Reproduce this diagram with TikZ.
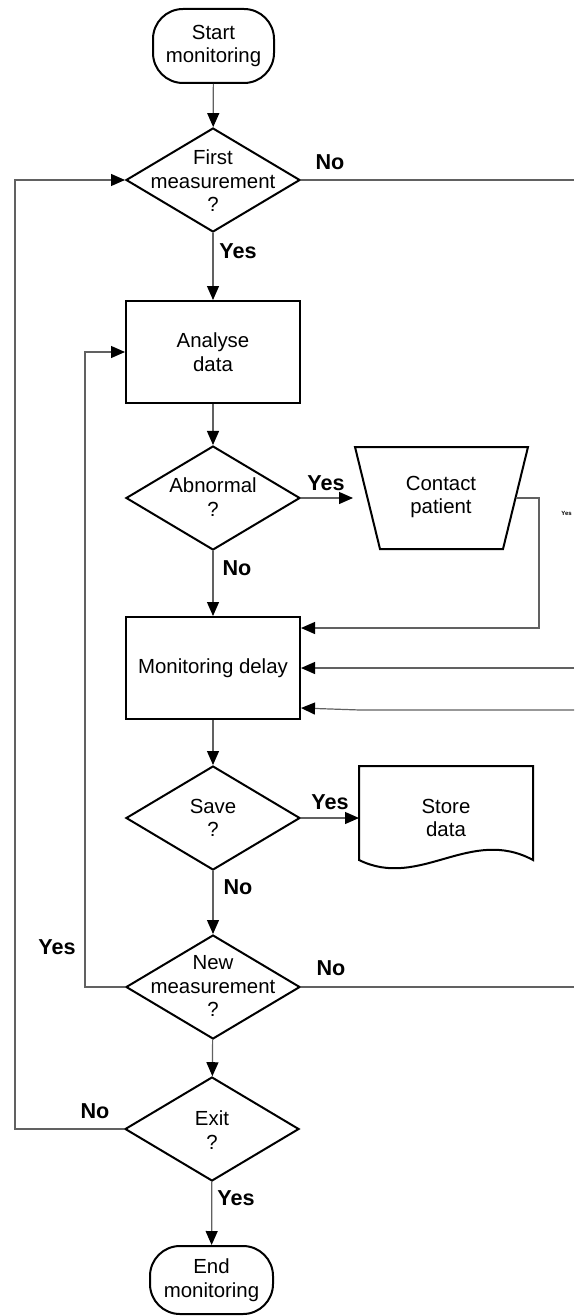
\documentclass[tikz,border=0pt]{standalone}
\usepackage{fontspec}
\setmainfont{Liberation Sans}
\usetikzlibrary{arrows.meta,shapes.geometric}
\begin{document}
\begin{tikzpicture}[x=0.5pt,y=-0.5pt,
  every node/.style={font=\fontsize{10.2}{11.8}\selectfont},
  box/.style={draw=black,line width=1pt,minimum width=87pt,minimum height=51pt,inner sep=0pt,align=center},
  dia/.style={draw=black,line width=1pt,diamond,minimum width=87pt,minimum height=52pt,inner sep=0pt},
  term/.style={draw=black,line width=1pt,rounded corners=15pt,minimum width=60.5pt,minimum height=37pt,inner sep=0pt,align=center},
  txt/.style={align=center,inner sep=0pt},
  lbl/.style={font=\fontsize{10.8}{12}\selectfont\bfseries,inner sep=0pt},
  conn/.style={draw=black!62,line width=0.6pt},
  arr/.style={conn,-{Triangle[length=7pt,width=6pt,color=black]}},
  outl/.style={draw=black,line width=1pt,line join=miter},
]
\useasboundingbox (0,0) rectangle (574,1316);

% nodes
\node[term] (start) at (213.5,46) {Start\\monitoring};
\node[dia] (first) at (213,180) {};
\node[txt] (firstT) at (213,181) {First\\measurement\\?};
\node[box] (ana) at (213,352) {Analyse\\data};
\node[dia] (abn) at (213,498) {};
\node[txt] (abnT) at (213,497) {Abnormal\\?};
\node[box] (mon) at (213,668) {Monitoring delay};
\node[dia] (save) at (213,818) {};
\node[txt] (saveT) at (213,818) {Save\\?};
\node[dia] (new) at (213,987) {};
\node[txt] (newT) at (213,986) {New\\measurement\\?};
\node[dia] (exit) at (212,1129) {};
\node[txt] (exitT) at (212,1130) {Exit\\?};
\node[term,minimum width=61.5pt,minimum height=34pt] (end) at (211.5,1280) {End\\monitoring};

% contact patient (manual input trapezoid)
\coordinate (ct1) at (355,447);
\coordinate (ct2) at (528,447);
\coordinate (ct3) at (503,549);
\coordinate (ct4) at (380,549);
\draw[outl] (ct1) -- (ct2) -- (ct3) -- (ct4) -- cycle;
\node[txt] (contact) at (441,497) {Contact\\patient};
\coordinate (ctin) at (353,498);
\coordinate (ctout) at (516,498);
\coordinate (ctc) at (539,628);

% store data (document shape)
\draw[outl] (359,766) -- (533,766) -- (533,860)
  .. controls (470,826) and (420,890) .. (359,860) -- cycle;
\node[txt] (store) at (446,818) {Store\\data};
\coordinate (stin) at (359,818);

% edge coordinates
\coordinate (rx) at (574,0);
\coordinate (lx) at (15,0);
\coordinate (r1) at (574,668);
\coordinate (r2) at (574,710);
\coordinate (r2b) at (360,710);

% connectors
\draw[arr] (start) -- (first);
\draw[conn] (first.east) -- (first.east -| rx);
\draw[arr] (first) -- (ana);
\draw[arr] (ana) -- (abn);
\draw[arr] (abn.east) -- (ctin);
\draw[arr] (ctout) -| (ctc) -- ([yshift=20pt]mon.east);
\draw[arr] (r1) -- (mon.east);
\draw[arr] (r2) -- (r2b) -- ([yshift=-20pt]mon.east);
\draw[arr] (abn) -- (mon);
\draw[arr] (mon) -- (save);
\draw[arr] (save.east) -- (stin);
\draw[arr] (save) -- (new);
\draw[arr] (new.west) -- ++(-40,0) |- (ana.west);
\draw[conn] (new.east) -- (new.east -| rx);
\draw[arr] (new) -- (exit);
\draw[arr] (exit.west) -- (exit.west -| lx) |- (first.west);
\draw[arr] (exit) -- (end);

% labels
\node[lbl] (l1) at (330,162) {No};
\node[lbl] (l2) at (238,251) {Yes};
\node[lbl] (l3) at (326,483) {Yes};
\node[lbl] (l4) at (237,568) {No};
\node[lbl] (l5) at (330,802) {Yes};
\node[lbl] (l6) at (238,887) {No};
\node[lbl] (l7) at (57,947) {Yes};
\node[lbl] (l8) at (331,968) {No};
\node[lbl] (l9) at (95,1111) {No};
\node[lbl] (l10) at (236,1198) {Yes};
\node[font=\fontsize{3}{3}\selectfont\bfseries,inner sep=0pt,anchor=west] (tiny) at (561,513) {Yes};
\end{tikzpicture}
\end{document}
